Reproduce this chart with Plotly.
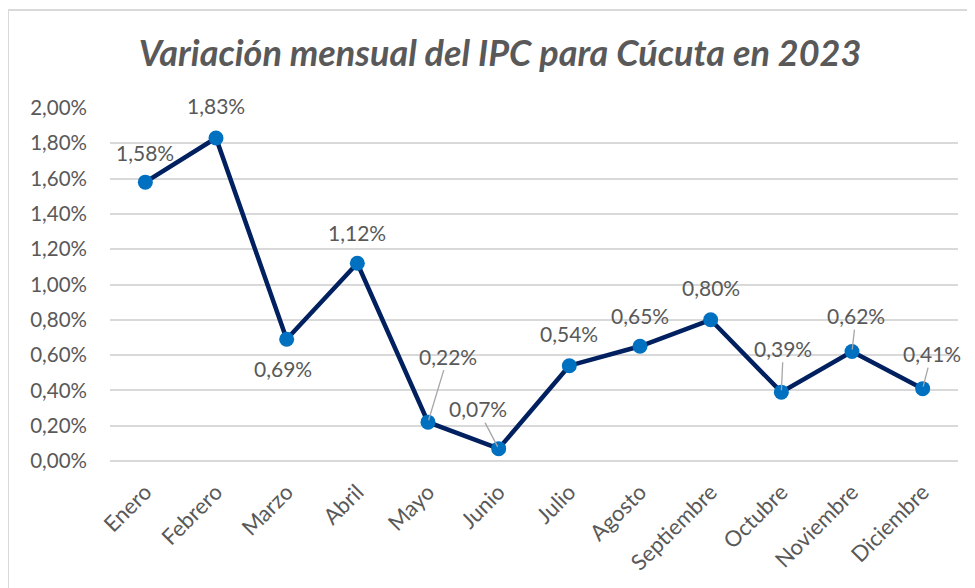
import plotly.graph_objects as go

months = ["Enero", "Febrero", "Marzo", "Abril", "Mayo", "Junio", "Julio",
          "Agosto", "Septiembre", "Octubre", "Noviembre", "Diciembre"]
values = [1.58, 1.83, 0.69, 1.12, 0.22, 0.07, 0.54, 0.65, 0.80, 0.39, 0.62, 0.41]
y_ticks = [0.0, 0.2, 0.4, 0.6, 0.8, 1.0, 1.2, 1.4, 1.6, 1.8, 2.0]
y_tick_labels = ["0,00%", "0,20%", "0,40%", "0,60%", "0,80%", "1,00%",
                 "1,20%", "1,40%", "1,60%", "1,80%", "2,00%"]
labels = [f"{v:.2f}".replace(".", ",") + "%" for v in values]

# label offsets (px): (dx, dy, leader_line)
offsets = [(0, -30, False), (0, -33, False), (-4, 29, False), (0, -31, False),
           (20, -66, True), (-21, -40, True), (0, -32, False), (0, -31, False),
           (0, -32, False), (2, -44, True), (4, -36, True), (9, -35, True)]

FONT = "Lato"
GRAY = "#595959"

W, H = 967, 580
L, R, T, B = 102, 17, 100, 127
PW, PH = W - L - R, H - T - B

fig = go.Figure()
fig.add_trace(go.Scatter(
    x=months, y=values, mode="lines+markers",
    line=dict(color="#002060", width=4.5),
    marker=dict(color="#0070C0", size=15),
    hoverinfo="skip", showlegend=False,
))

annotations = []
for m, v, lab, (dx, dy, lead) in zip(months, values, labels, offsets):
    if lead:
        annotations.append(dict(
            x=m, y=v, xref="x", yref="y", text=lab, showarrow=True,
            ax=dx, ay=dy, axref="pixel", ayref="pixel",
            arrowhead=0, arrowwidth=1.3, arrowcolor="#A6A6A6",
            standoff=2, font=dict(family=FONT, size=21, color=GRAY),
        ))
    else:
        annotations.append(dict(
            x=m, y=v, xref="x", yref="y", text=lab, showarrow=False,
            xshift=dx, yshift=-dy, font=dict(family=FONT, size=21, color=GRAY),
        ))

fig.update_layout(
    width=W, height=H,
    margin=dict(l=L, r=R, t=T, b=B, autoexpand=False),
    paper_bgcolor="white", plot_bgcolor="white",
    title=dict(text="<b><i>Variación mensual del IPC para Cúcuta en 2023</i></b>",
               x=(492 - L) / PW, xref="paper", xanchor="center",
               y=1 - 45 / H, yanchor="middle",
               font=dict(family=FONT, size=36, color=GRAY)),
    xaxis=dict(showgrid=False, tickangle=-45, zeroline=False,
               range=[-0.5, 11.5],
               tickfont=dict(family=FONT, size=22, color=GRAY),
               showline=False, ticks="", ticklabelstandoff=13),
    yaxis=dict(range=[0, 2.0], tickvals=y_ticks, ticktext=y_tick_labels,
               showgrid=True, gridcolor="#D9D9D9", gridwidth=1.5,
               zeroline=True, zerolinecolor="#D9D9D9", zerolinewidth=1.5,
               tickfont=dict(family=FONT, size=20.5, color=GRAY), ticks="",
               ticklabelstandoff=22),
    annotations=annotations,
    shapes=[dict(type="rect", xref="paper", yref="paper",
                 x0=(0 - L) / PW, x1=(W + 20 - L) / PW,
                 y0=-(H + 20 - T - PH) / PH, y1=(PH + T - 2) / PH,
                 line=dict(color="#D9D9D9", width=2), fillcolor="rgba(0,0,0,0)",
                 layer="below")],
)

fig.write_html("out.html")
